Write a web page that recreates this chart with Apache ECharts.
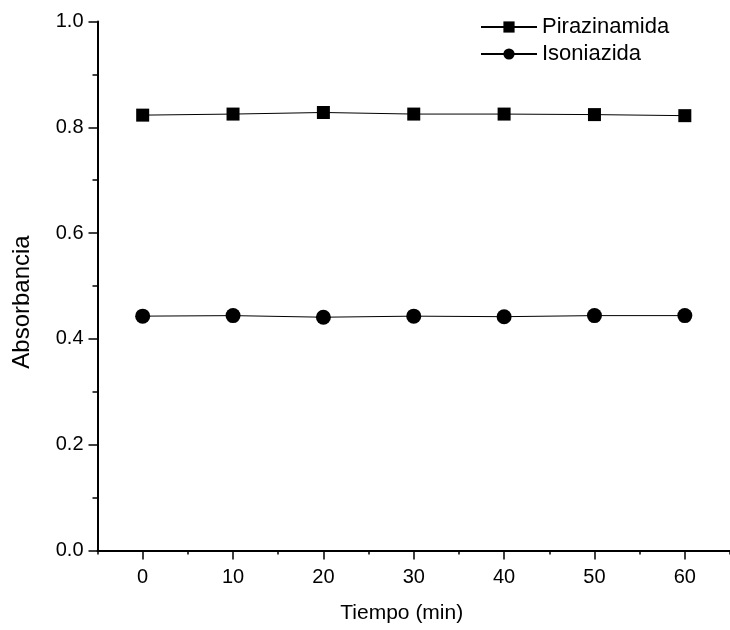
<!DOCTYPE html>
<html>
<head>
<meta charset="utf-8">
<script src="https://cdn.jsdelivr.net/npm/echarts@6/dist/echarts.min.js"></script>
<style>html,body{margin:0;padding:0;background:#fff}#c{width:730px;height:630px}</style>
</head>
<body>
<div id="c"></div>
<script>
const tiempo = [0, 10, 20, 30, 40, 50, 60];
const pirazinamida = [0.823, 0.825, 0.828, 0.825, 0.825, 0.824, 0.822];
const isoniazida = [0.443, 0.444, 0.441, 0.443, 0.442, 0.444, 0.444];
const xTickLabels = [0, 10, 20, 30, 40, 50, 60];
const yTickLabels = [0.0, 0.2, 0.4, 0.6, 0.8, 1.0];

const FONT = '"Liberation Sans", Arial, sans-serif';
const chart = echarts.init(document.getElementById('c'));
const toPairs = ys => tiempo.map((t, i) => [t, ys[i]]);

chart.setOption({
  animation: false,
  backgroundColor: '#fff',
  textStyle: { fontFamily: FONT, color: '#000' },
  grid: { left: 97.5, top: 21.5, right: -5.6, bottom: 79.5, containLabel: false },
  legend: {
    orient: 'vertical', left: 480, top: 16, padding: 0, itemWidth: 56, itemHeight: 14, itemGap: 5,
    textStyle: { fontFamily: FONT, fontSize: 22, lineHeight: 20, color: '#000' },
    data: ['Pirazinamida', 'Isoniazida']
  },
  xAxis: [{
    type: 'value', min: -5, max: 65, interval: 5,
    name: 'Tiempo (min)', nameLocation: 'middle', nameGap: 52,
    nameTextStyle: { fontFamily: FONT, fontSize: 21, color: '#000', padding: [0, 24, 0, 0] },
    axisLine: { onZero: false, lineStyle: { color: '#000', width: 2 } },
    axisTick: { show: true, length: 4, lineStyle: { color: '#000', width: 1.5 } },
    axisLabel: { customValues: xTickLabels, fontFamily: FONT, fontSize: 20, color: '#000', margin: 17 },
    splitLine: { show: false }
  }, {
    type: 'value', min: -5, max: 65, interval: 5, position: 'bottom',
    axisLine: { show: false },
    axisTick: { show: true, customValues: xTickLabels, length: 9, lineStyle: { color: '#000', width: 1.5 } },
    axisLabel: { show: false },
    splitLine: { show: false }
  }],
  yAxis: {
    type: 'value', min: 0, max: 1, interval: 0.2,
    name: 'Absorbancia', nameLocation: 'middle', nameGap: 63,
    nameTextStyle: { fontFamily: FONT, fontSize: 24, color: '#000', padding: [0, 32, 0, 0] },
    axisLine: { onZero: false, lineStyle: { color: '#000', width: 2 } },
    axisTick: { show: true, length: 9, lineStyle: { color: '#000', width: 1.5 } },
    minorTick: { show: true, splitNumber: 2, length: 5, lineStyle: { color: '#000', width: 1.5 } },
    axisLabel: { fontFamily: FONT, fontSize: 20, color: '#000', margin: 14, formatter: v => v.toFixed(1) },
    splitLine: { show: false }
  },
  series: [{
    name: 'Pirazinamida', type: 'line', xAxisIndex: 0, data: toPairs(pirazinamida),
    symbol: 'rect', symbolSize: 13,
    lineStyle: { color: '#000', width: 1 }, itemStyle: { color: '#000' }
  }, {
    name: 'Isoniazida', type: 'line', xAxisIndex: 0, data: toPairs(isoniazida),
    symbol: 'circle', symbolSize: 15,
    lineStyle: { color: '#000', width: 1 }, itemStyle: { color: '#000' }
  }]
});
</script>
</body>
</html>
